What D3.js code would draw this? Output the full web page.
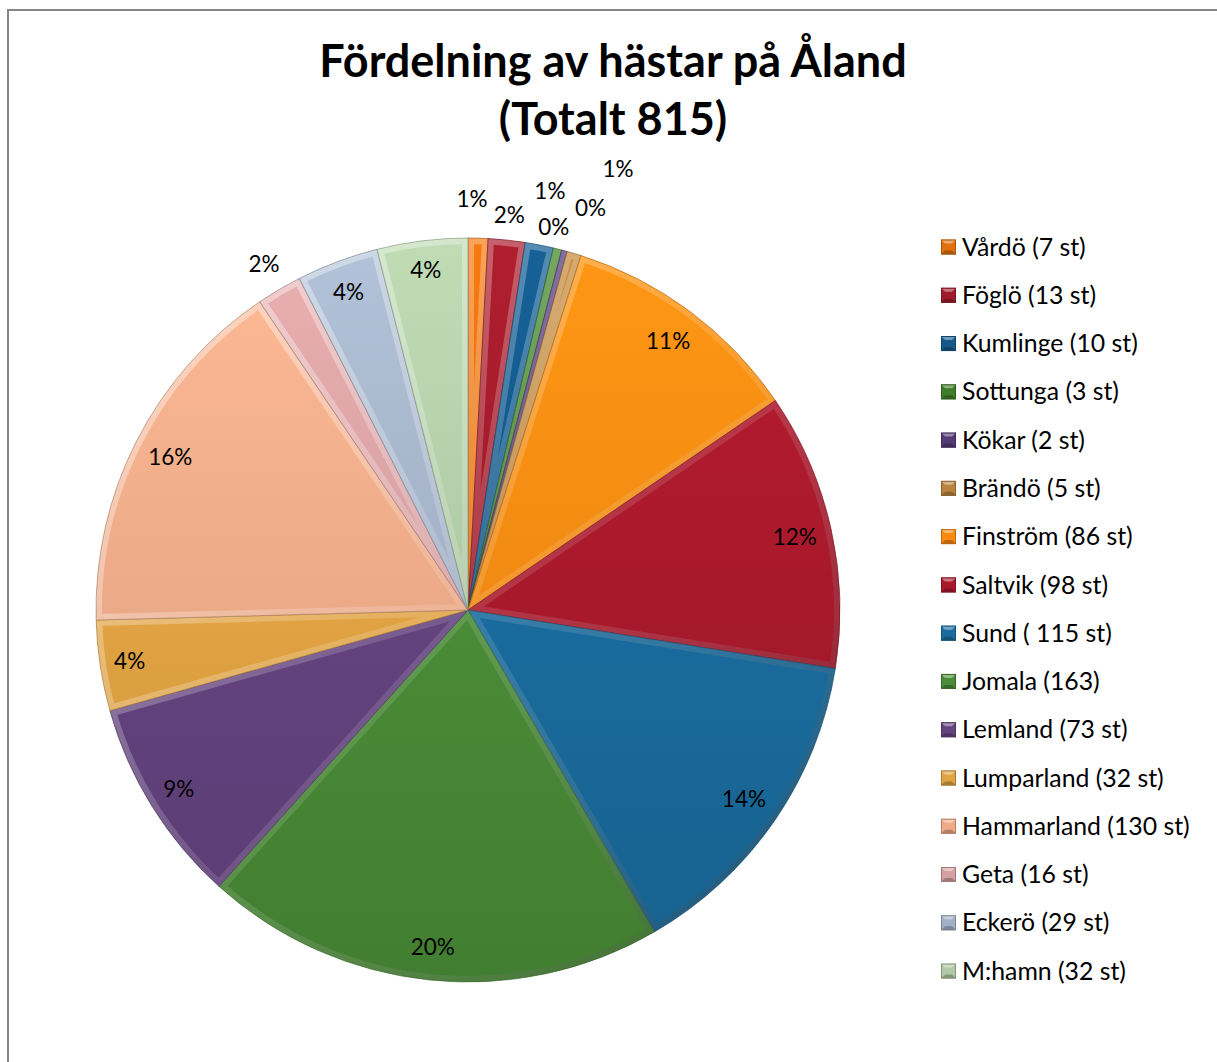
<!DOCTYPE html>
<html>
<head>
<meta charset="utf-8">
<script src="https://cdn.jsdelivr.net/npm/d3@7/dist/d3.min.js"></script>
<style>
  body { margin: 0; background: #fff; }
  text { font-family: Lato, "Open Sans", sans-serif; }
</style>
</head>
<body>
<svg width="1217" height="1062"></svg>
<script>
// Data
const municipalities = ['Vårdö', 'Föglö', 'Kumlinge', 'Sottunga', 'Kökar', 'Brändö', 'Finström', 'Saltvik',
    'Sund', 'Jomala', 'Lemland', 'Lumparland', 'Hammarland', 'Geta', 'Eckerö', 'M:hamn'];
const horses = [7, 13, 10, 3, 2, 5, 86, 98, 115, 163, 73, 32, 130, 16, 29, 32];
const legend_labels = ['Vårdö (7 st)', 'Föglö (13 st)', 'Kumlinge (10 st)', 'Sottunga (3 st)', 'Kökar (2 st)',
    'Brändö (5 st)', 'Finström (86 st)', 'Saltvik (98 st)', 'Sund ( 115 st)', 'Jomala (163)', 'Lemland (73 st)',
    'Lumparland (32 st)', 'Hammarland (130 st)', 'Geta (16 st)', 'Eckerö (29 st)', 'M:hamn (32 st)'];
const title_lines = ['Fördelning av hästar på Åland', '(Totalt 815)'];

// Styles / layout
const colors = ['#E2700F', '#A01B2B', '#14598A', '#3E7E27', '#553A75', '#B8843E', '#FA8A12', '#A8192C',
    '#1A6C9E', '#4A8C37', '#64437F', '#E2A443', '#EFAA88', '#D6A0A2', '#A3B1C6', '#B0C9A6'];
// label distance (fraction of radius) and angular nudge (degrees) for crowded small slices
const label_radius = [1.105, 1.067, 1.148, 1.054, 1.13, 1.253, 0.9, 0.9, 0.9, 0.91, 0.915, 0.92, 0.9, 1.08, 0.914, 0.92];
const label_nudge = [-1, 0, 0, -1.3, 1.9, 2.2, 0, 0, 0, 0, 0, 0, 0, 0, 0, 0];

const svg = d3.select('svg');
const cx = 468, cy = 610, radius = 372;
const total = d3.sum(horses);
const pct = d3.format('.0%');

// Frame
svg.append('rect')
    .attr('x', 8).attr('y', 10)
    .attr('width', 1260).attr('height', 1100)
    .attr('fill', 'none')
    .attr('stroke', '#868686')
    .attr('stroke-width', 2);

// Title
svg.append('g').selectAll('text')
    .data(title_lines)
    .enter().append('text')
    .attr('x', 613)
    .attr('y', (d, i) => 77 + i * 58)
    .attr('text-anchor', 'middle')
    .attr('font-size', '45px')
    .attr('font-weight', 'bold')
    .attr('fill', '#000')
    .text(d => d);

const defs = svg.append('defs');
const pie = d3.pie().sort(null).value(d => d);
const arc = d3.arc().innerRadius(0).outerRadius(radius);
const arcs = pie(horses);

// gradients: vertical shading per slice + shared bevel light
colors.forEach((c, i) => {
    const g = defs.append('linearGradient')
        .attr('id', 'fill' + i)
        .attr('gradientUnits', 'userSpaceOnUse')
        .attr('x1', 0).attr('y1', -radius).attr('x2', 0).attr('y2', radius);
    g.append('stop').attr('offset', 0).attr('stop-color', d3.color(c).brighter(0.25));
    g.append('stop').attr('offset', 1).attr('stop-color', d3.color(c).darker(0.3));
});
const bevel = defs.append('linearGradient')
    .attr('id', 'bevel')
    .attr('gradientUnits', 'userSpaceOnUse')
    .attr('x1', -radius).attr('y1', -radius).attr('x2', radius).attr('y2', radius);
bevel.append('stop').attr('offset', 0).attr('stop-color', '#fff').attr('stop-opacity', 0.5);
bevel.append('stop').attr('offset', 0.5).attr('stop-color', '#fff').attr('stop-opacity', 0.12);
bevel.append('stop').attr('offset', 1).attr('stop-color', '#000').attr('stop-opacity', 0.3);

arcs.forEach((d, i) => {
    defs.append('clipPath').attr('id', 'clip' + i)
        .append('path').attr('d', arc(d));
});

const chart = svg.append('g').attr('transform', `translate(${cx}, ${cy})`);

const slices = chart.selectAll('.slice')
    .data(arcs)
    .enter().append('g')
    .attr('class', 'slice');

slices.append('path')
    .attr('d', arc)
    .attr('fill', (d, i) => `url(#fill${i})`);

// bevel edge inside each slice
slices.append('path')
    .attr('d', arc)
    .attr('fill', 'none')
    .attr('stroke', 'url(#bevel)')
    .attr('stroke-width', 12)
    .attr('stroke-linejoin', 'round')
    .attr('clip-path', (d, i) => `url(#clip${i})`);

slices.append('path')
    .attr('d', arc)
    .attr('fill', 'none')
    .attr('stroke', (d, i) => d3.color(colors[i]).darker(1))
    .attr('stroke-opacity', 0.6)
    .attr('stroke-width', 1);

// Percent labels
chart.selectAll('.pct')
    .data(arcs)
    .enter().append('text')
    .attr('class', 'pct')
    .attr('transform', (d, i) => {
        const a = (d.startAngle + d.endAngle) / 2 + label_nudge[i] * Math.PI / 180;
        const r = radius * label_radius[i];
        return `translate(${Math.sin(a) * r}, ${-Math.cos(a) * r})`;
    })
    .attr('text-anchor', 'middle')
    .attr('dy', '0.35em')
    .attr('font-size', '22.5px')
    .attr('fill', '#000')
    .text(d => pct(d.value / total));

// Legend
const legend = svg.append('g').attr('transform', 'translate(941, 247)');
const legend_step = 48.27;
const items = legend.selectAll('.item')
    .data(legend_labels)
    .enter().append('g')
    .attr('class', 'item')
    .attr('transform', (d, i) => `translate(0, ${i * legend_step})`);

items.append('rect')
    .attr('x', 0).attr('y', -7.5)
    .attr('width', 15).attr('height', 15)
    .attr('fill', (d, i) => colors[i]);
// pyramid bevel on markers
items.append('path')
    .attr('d', 'M0,-7.5 L15,-7.5 L11,-3.5 L4,-3.5 Z')
    .attr('fill', '#fff').attr('fill-opacity', 0.4);
items.append('path')
    .attr('d', 'M0,7.5 L15,7.5 L11,3.5 L4,3.5 Z')
    .attr('fill', '#000').attr('fill-opacity', 0.25);
items.append('rect')
    .attr('x', 0.5).attr('y', -7)
    .attr('width', 14).attr('height', 14)
    .attr('fill', 'none')
    .attr('stroke', (d, i) => d3.color(colors[i]).darker(0.8))
    .attr('stroke-width', 1);

items.append('text')
    .attr('x', 21)
    .attr('dy', '0.35em')
    .attr('font-size', '24.8px')
    .attr('fill', '#000')
    .text(d => d);
</script>
</body>
</html>
